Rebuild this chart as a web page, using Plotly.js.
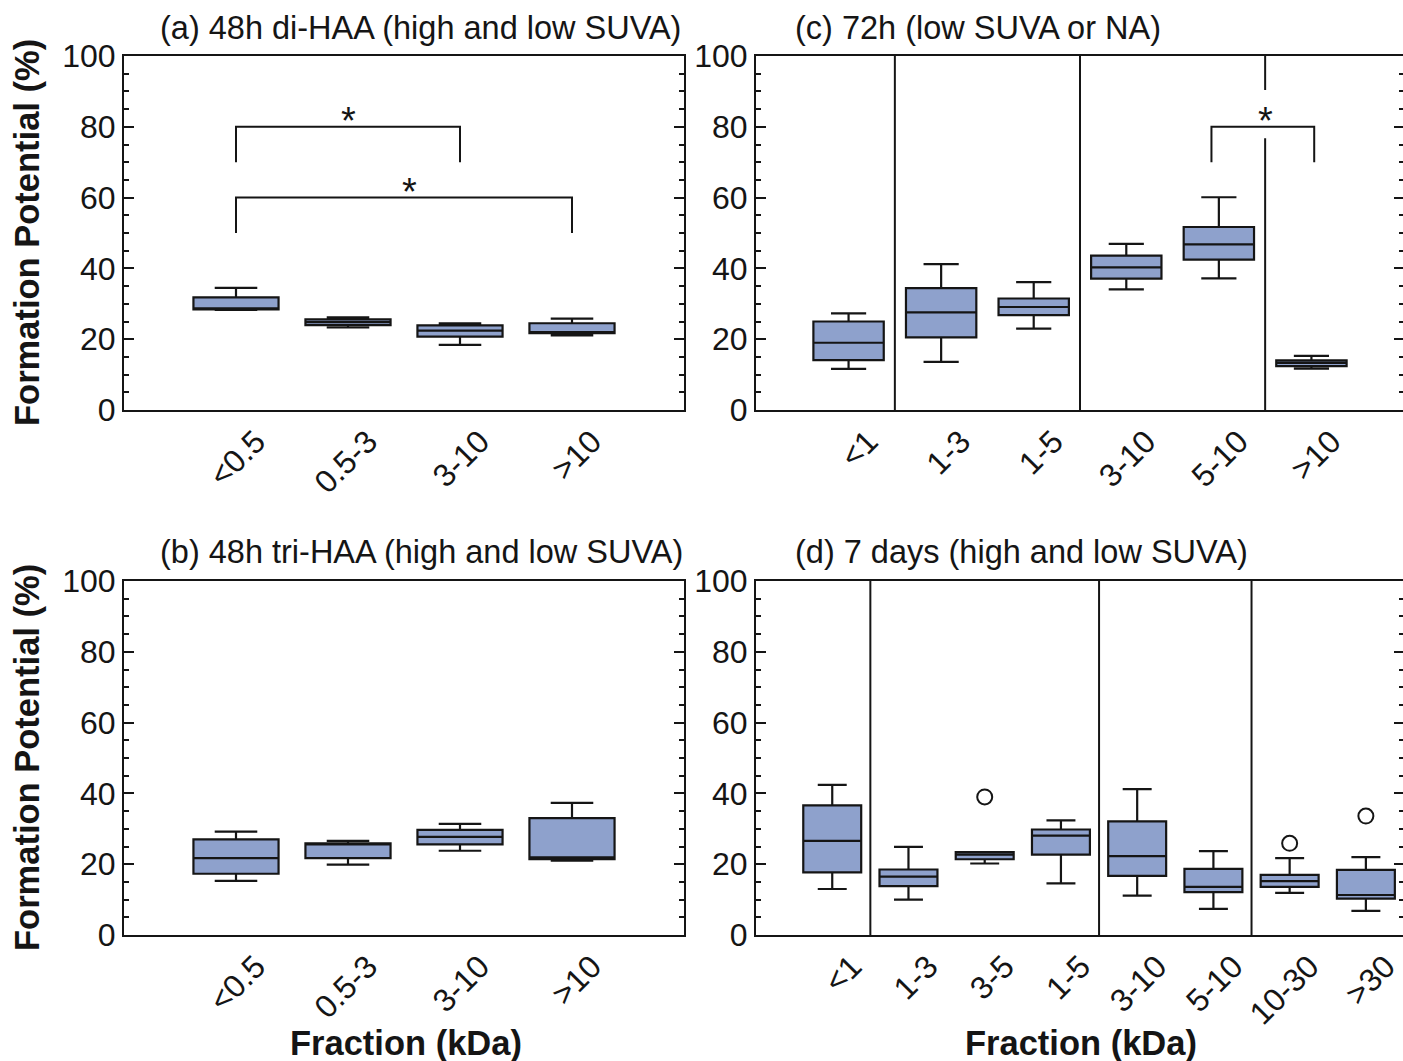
<!DOCTYPE html>
<html>
<head>
<meta charset="utf-8">
<script src="https://cdn.plot.ly/plotly-3.0.1.min.js"></script>
<style>
html,body{margin:0;padding:0;background:#fff;overflow:hidden;}
#chart{width:1405px;height:1061px;}
</style>
</head>
<body>
<div id="chart"></div>
<script>
// ---------- DATA ----------
const catsA = ['<0.5','0.5-3','3-10','>10'];
const aLow  = [28.3, 23.3, 18.4, 21.1];
const aQ1   = [28.4, 24.0, 20.7, 21.7];
const aMed  = [28.6, 24.8, 22.4, 21.9];
const aQ3   = [31.8, 25.6, 23.9, 24.5];
const aHigh = [34.5, 26.2, 24.5, 25.8];

const catsB = ['<0.5','0.5-3','3-10','>10'];
const bLow  = [15.3, 19.9, 23.8, 21.0];
const bQ1   = [17.3, 21.7, 25.6, 21.4];
const bMed  = [21.7, 25.6, 27.7, 21.9];
const bQ3   = [27.0, 25.9, 29.7, 33.0];
const bHigh = [29.2, 26.6, 31.4, 37.3];

const catsC = ['<1','1-3','1-5','3-10','5-10','>10'];
const cLow  = [11.6, 13.6, 23.0, 34.1, 37.2, 11.7];
const cQ1   = [14.1, 20.5, 26.8, 37.1, 42.5, 12.4];
const cMed  = [19.0, 27.6, 29.1, 40.3, 46.8, 13.3];
const cQ3   = [25.0, 34.4, 31.5, 43.6, 51.7, 14.0];
const cHigh = [27.3, 41.2, 36.1, 46.9, 60.1, 15.3];

const catsD = ['<1','1-3','3-5','1-5','3-10','5-10','10-30','>30'];
const dLow  = [13.0, 10.0, 20.2, 14.6, 11.1, 7.4, 11.9, 6.8];
const dQ1   = [17.7, 13.8, 21.4, 22.7, 16.7, 12.1, 13.6, 10.3];
const dMed  = [26.6, 16.5, 22.7, 28.1, 22.3, 13.6, 15.2, 11.3];
const dQ3   = [36.6, 18.5, 23.4, 29.8, 32.1, 18.7, 17.0, 18.4];
const dHigh = [42.4, 24.9, 23.4, 32.4, 41.2, 23.7, 21.7, 22.0];
const dOutlierCats = ['3-5','10-30','>30'];
const dOutlierVals = [39.0, 25.9, 33.6];

const yTicks = [0, 20, 40, 60, 80, 100];

// ---------- LAYOUT HELPERS ----------
const W = 1405, H = 1061;
const px = v => v / W;
const py = v => 1 - v / H;
const FONT = 'Liberation Sans, Arial, sans-serif';
const FILL = '#8ea1cc';
const INK = '#151515';

function boxTrace(cats, lo, q1, med, q3, hi, xa, ya) {
  return {
    type: 'box', xaxis: xa, yaxis: ya,
    x: cats.map((c, i) => i),
    lowerfence: lo, q1: q1, median: med, q3: q3, upperfence: hi,
    width: 0.76, whiskerwidth: 0.5,
    fillcolor: FILL, line: {color: INK, width: 2.2},
    boxpoints: false, hoverinfo: 'skip', showlegend: false
  };
}

function xAxis(cats, range, dom, anchor) {
  return {
    domain: dom, anchor: anchor, range: range,
    tickvals: cats.map((c, i) => i), ticktext: cats,
    tickangle: -45, ticks: '', showline: true, mirror: true,
    ticklabelshift: 20, ticklabelstandoff: -2,
    linecolor: INK, linewidth: 2, showgrid: false, zeroline: false,
    tickfont: {family: FONT, size: 32, color: INK}, fixedrange: true
  };
}
function yAxis(dom, anchor) {
  return {
    domain: dom, anchor: anchor, range: [0, 100],
    tickvals: yTicks, ticks: 'inside', ticklen: 10, tickwidth: 2, tickcolor: INK,
    minor: {dtick: 5, ticks: 'inside', ticklen: 5, tickwidth: 2, tickcolor: INK},
    showline: true, mirror: 'ticks', linecolor: INK, linewidth: 2,
    showgrid: false, zeroline: false,
    tickfont: {family: FONT, size: 32, color: INK}, fixedrange: true
  };
}

const domXL = [px(124), px(684)];
const domXR = [px(756), px(1404)];
const domYT = [py(410), py(56)];
const domYB = [py(935), py(581)];

const data = [
  boxTrace(catsA, aLow, aQ1, aMed, aQ3, aHigh, 'x', 'y'),
  boxTrace(catsC, cLow, cQ1, cMed, cQ3, cHigh, 'x2', 'y2'),
  boxTrace(catsB, bLow, bQ1, bMed, bQ3, bHigh, 'x3', 'y3'),
  boxTrace(catsD, dLow, dQ1, dMed, dQ3, dHigh, 'x4', 'y4'),
  {
    type: 'scatter', mode: 'markers', xaxis: 'x4', yaxis: 'y4',
    x: dOutlierCats.map(c => catsD.indexOf(c)), y: dOutlierVals,
    marker: {symbol: 'circle-open', size: 15, color: INK, line: {width: 2, color: INK}},
    hoverinfo: 'skip', showlegend: false
  }
];

const line = {color: INK, width: 2};
function seg(xr, yr, x0, y0, x1, y1) {
  return {type: 'line', xref: xr, yref: yr, x0: x0, y0: y0, x1: x1, y1: y1, line: line, layer: 'above'};
}
function bracket(xr, yr, xa, xb, ytop, ybot) {
  return {type: 'path', xref: xr, yref: yr,
    path: `M${xa},${ybot} L${xa},${ytop} L${xb},${ytop} L${xb},${ybot}`,
    line: line, layer: 'above'};
}

const shapes = [
  // panel a significance brackets
  bracket('x', 'y', 0, 2, 80, 70),
  bracket('x', 'y', 0, 3, 60, 50),
  // panel c dividers
  seg('x2', 'y2', 0.5, 0, 0.5, 100),
  seg('x2', 'y2', 2.5, 0, 2.5, 100),
  seg('x2', 'y2', 4.5, 0, 4.5, 76.8),
  seg('x2', 'y2', 4.5, 90.4, 4.5, 100),
  bracket('x2', 'y2', 3.92, 5.03, 80, 70),
  // panel d dividers
  seg('x4', 'y4', 0.5, 0, 0.5, 100),
  seg('x4', 'y4', 3.5, 0, 3.5, 100),
  seg('x4', 'y4', 5.5, 0, 5.5, 100)
];

function star(xr, yr, x, y) {
  return {xref: xr, yref: yr, x: x, y: y, text: '*', showarrow: false,
    font: {family: FONT, size: 38, color: INK}, xanchor: 'center', yanchor: 'middle'};
}
function ttl(text, x, y) {
  return {xref: 'paper', yref: 'paper', x: px(x), y: py(y), text: text, showarrow: false,
    xanchor: 'left', yanchor: 'middle', font: {family: FONT, size: 32.5, color: INK}};
}
function axTitle(text, x, y, angle) {
  return {xref: 'paper', yref: 'paper', x: px(x), y: py(y), text: '<b>' + text + '</b>', showarrow: false,
    xanchor: 'center', yanchor: 'middle', textangle: angle,
    font: {family: FONT, size: 34.5, color: INK}};
}

const annotations = [
  star('x', 'y', 1, 81.5),
  star('x', 'y', 1.55, 61.5),
  star('x2', 'y2', 4.5, 81.5),
  ttl('(a) 48h di-HAA (high and low SUVA)', 158, 28),
  ttl('(c) 72h (low SUVA or NA)', 793, 28),
  ttl('(b) 48h tri-HAA (high and low SUVA)', 158, 552),
  ttl('(d) 7 days (high and low SUVA)', 793, 552),
  axTitle('Formation Potential (%)', 27, 233, -90),
  axTitle('Formation Potential (%)', 27, 758, -90),
  axTitle('Fraction (kDa)', 406, 1043, 0),
  axTitle('Fraction (kDa)', 1081, 1043, 0)
];

const layout = {
  width: W, height: H,
  margin: {l: 0, r: 0, t: 0, b: 0},
  paper_bgcolor: '#fff', plot_bgcolor: '#fff',
  font: {family: FONT, color: INK},
  showlegend: false,
  xaxis:  xAxis(catsA, [-1, 4], domXL, 'y'),
  yaxis:  yAxis(domYT, 'x'),
  xaxis2: xAxis(catsC, [-1, 6], domXR, 'y2'),
  yaxis2: yAxis(domYT, 'x2'),
  xaxis3: xAxis(catsB, [-1, 4], domXL, 'y3'),
  yaxis3: yAxis(domYB, 'x3'),
  xaxis4: xAxis(catsD, [-1, 7.5], domXR, 'y4'),
  yaxis4: yAxis(domYB, 'x4'),
  shapes: shapes,
  annotations: annotations
};

Plotly.newPlot('chart', data, layout, {staticPlot: true, displayModeBar: false});
</script>
</body>
</html>
